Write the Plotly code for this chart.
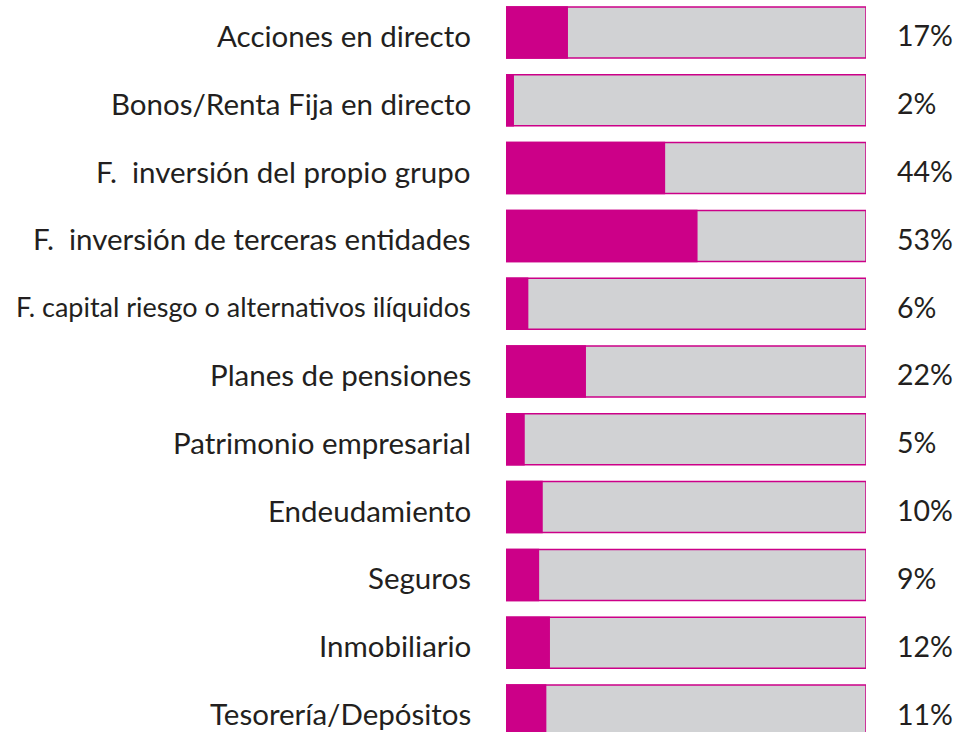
import plotly.graph_objects as go

categories = [
    "Acciones en directo",
    "Bonos/Renta Fija en directo",
    "F.  inversión del propio grupo",
    "F.  inversión de terceras entidades",
    "F. capital riesgo o alternativos ilíquidos",
    "Planes de pensiones",
    "Patrimonio empresarial",
    "Endeudamiento",
    "Seguros",
    "Inmobiliario",
    "Tesorería/Depósitos",
]
values = [17, 2, 44, 53, 6, 22, 5, 10, 9, 12, 11]
totals = [100] * len(categories)
value_labels = [f"{v}%" for v in values]

MAGENTA = "#CC0088"
GREY = "#D1D2D4"
TEXT = "#231F20"

fig = go.Figure()
fig.add_trace(go.Bar(
    y=categories, x=totals, orientation="h", width=0.752,
    marker=dict(color=GREY, line=dict(color=MAGENTA, width=1.5)),
    hoverinfo="skip", showlegend=False,
))
fig.add_trace(go.Bar(
    y=categories, x=values, orientation="h", width=0.752,
    marker=dict(color=MAGENTA, line=dict(color=MAGENTA, width=1.5)),
    showlegend=False,
))

annotations = []
for cat, lab in zip(categories, value_labels):
    size = 27 if cat.startswith("F. capital") else 29.5
    annotations.append(dict(
        x=-33 / 360, xref="paper", y=cat, yref="y", text=cat,
        xanchor="right", yanchor="middle", showarrow=False, yshift=-3,
        font=dict(family="Lato", size=size, color=TEXT),
    ))
    annotations.append(dict(
        x=389 / 360, xref="paper", y=cat, yref="y", text=lab,
        xanchor="left", yanchor="middle", showarrow=False, yshift=-3,
        font=dict(family="Lato", size=28.5, color=TEXT),
    ))

fig.update_layout(
    width=959, height=732,
    margin=dict(l=506, r=93, t=0, b=0),
    barmode="overlay",
    plot_bgcolor="white", paper_bgcolor="white",
    xaxis=dict(range=[0, 100], visible=False, fixedrange=True),
    yaxis=dict(categoryorder="array", categoryarray=categories,
               range=[10.317, -0.479], visible=False),
    annotations=annotations,
)

fig.write_html("out.html")
